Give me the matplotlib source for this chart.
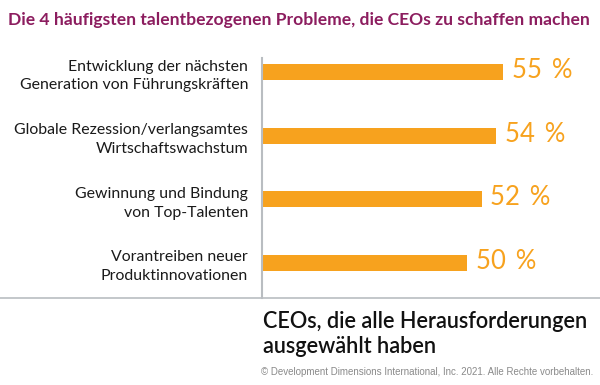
import matplotlib
matplotlib.use("Agg")
import matplotlib.pyplot as plt
from matplotlib.lines import Line2D

categories = [
    "Entwicklung der nächsten\nGeneration von Führungskräften",
    "Globale Rezession/verlangsamtes\nWirtschaftswachstum",
    "Gewinnung und Bindung\nvon Top-Talenten",
    "Vorantreiben neuer\nProduktinnovationen",
]
values = [55, 54, 52, 50]
value_labels = ["55 %", "54 %", "52 %", "50 %"]
title = "Die 4 häufigsten talentbezogenen Probleme, die CEOs zu schaffen machen"
footer = "CEOs, die alle Herausforderungen\nausgewählt haben"
copyright_text = "© Development Dimensions International, Inc. 2021. Alle Rechte vorbehalten."

ORANGE = "#F7A21E"
PURPLE = "#8C1D5F"
GRAY = "#B9BDC1"

W, H = 600, 385
fig = plt.figure(figsize=(6, 3.85), dpi=100)

ax_left, ax_right, ax_top, ax_bottom = 262, 590, 58, 298
ax = fig.add_axes([ax_left / W, 1 - ax_bottom / H, (ax_right - ax_left) / W, (ax_bottom - ax_top) / H])

xmin = 21.5
xmax = xmin + (ax_right - ax_left) / 7.2
ypos = list(range(len(values)))
ax.barh(ypos, [v - xmin for v in values], left=xmin, height=0.255, color=ORANGE)
ax.set_xlim(xmin, xmax)
ax.set_ylim(3.555, -0.221)

for y, v, lab in zip(ypos, values, value_labels):
    ax.text(v + 1.2, y - 0.02, lab.replace(" ", " \u2009"), color=ORANGE, fontsize=18.5,
            family="Lato", va="center", ha="left")

ax.set_yticks(ypos)
ax.set_yticklabels(categories, fontsize=11.4, family="Lato", color="#1a1a1a",
                   linespacing=1.45)
ax.tick_params(axis="y", length=0, pad=10)
ax.tick_params(axis="x", bottom=False, labelbottom=False)
for s in ["top", "right", "bottom"]:
    ax.spines[s].set_visible(False)
ax.spines["left"].set_color(GRAY)
ax.spines["left"].set_linewidth(1.5)

fig.add_artist(Line2D([0, 1], [1 - 298 / H, 1 - 298 / H], color=GRAY, lw=1.2,
                      transform=fig.transFigure))

fig.text(8 / W, 1 - 20 / H, title, color=PURPLE, fontsize=12.6, family="Lato",
         fontweight="bold", va="center", ha="left")
fig.text(263 / W, 1 - 334 / H, footer, color="#111111", fontsize=15.6, family="Lato",
         fontweight="semibold", va="center", ha="left", linespacing=1.2)
fig.text(593 / W, 1 - 372 / H, copyright_text, color="#8a8a8a", fontsize=7.0,
         family="Liberation Sans", va="center", ha="right")

fig.savefig("out.png", dpi=100)
